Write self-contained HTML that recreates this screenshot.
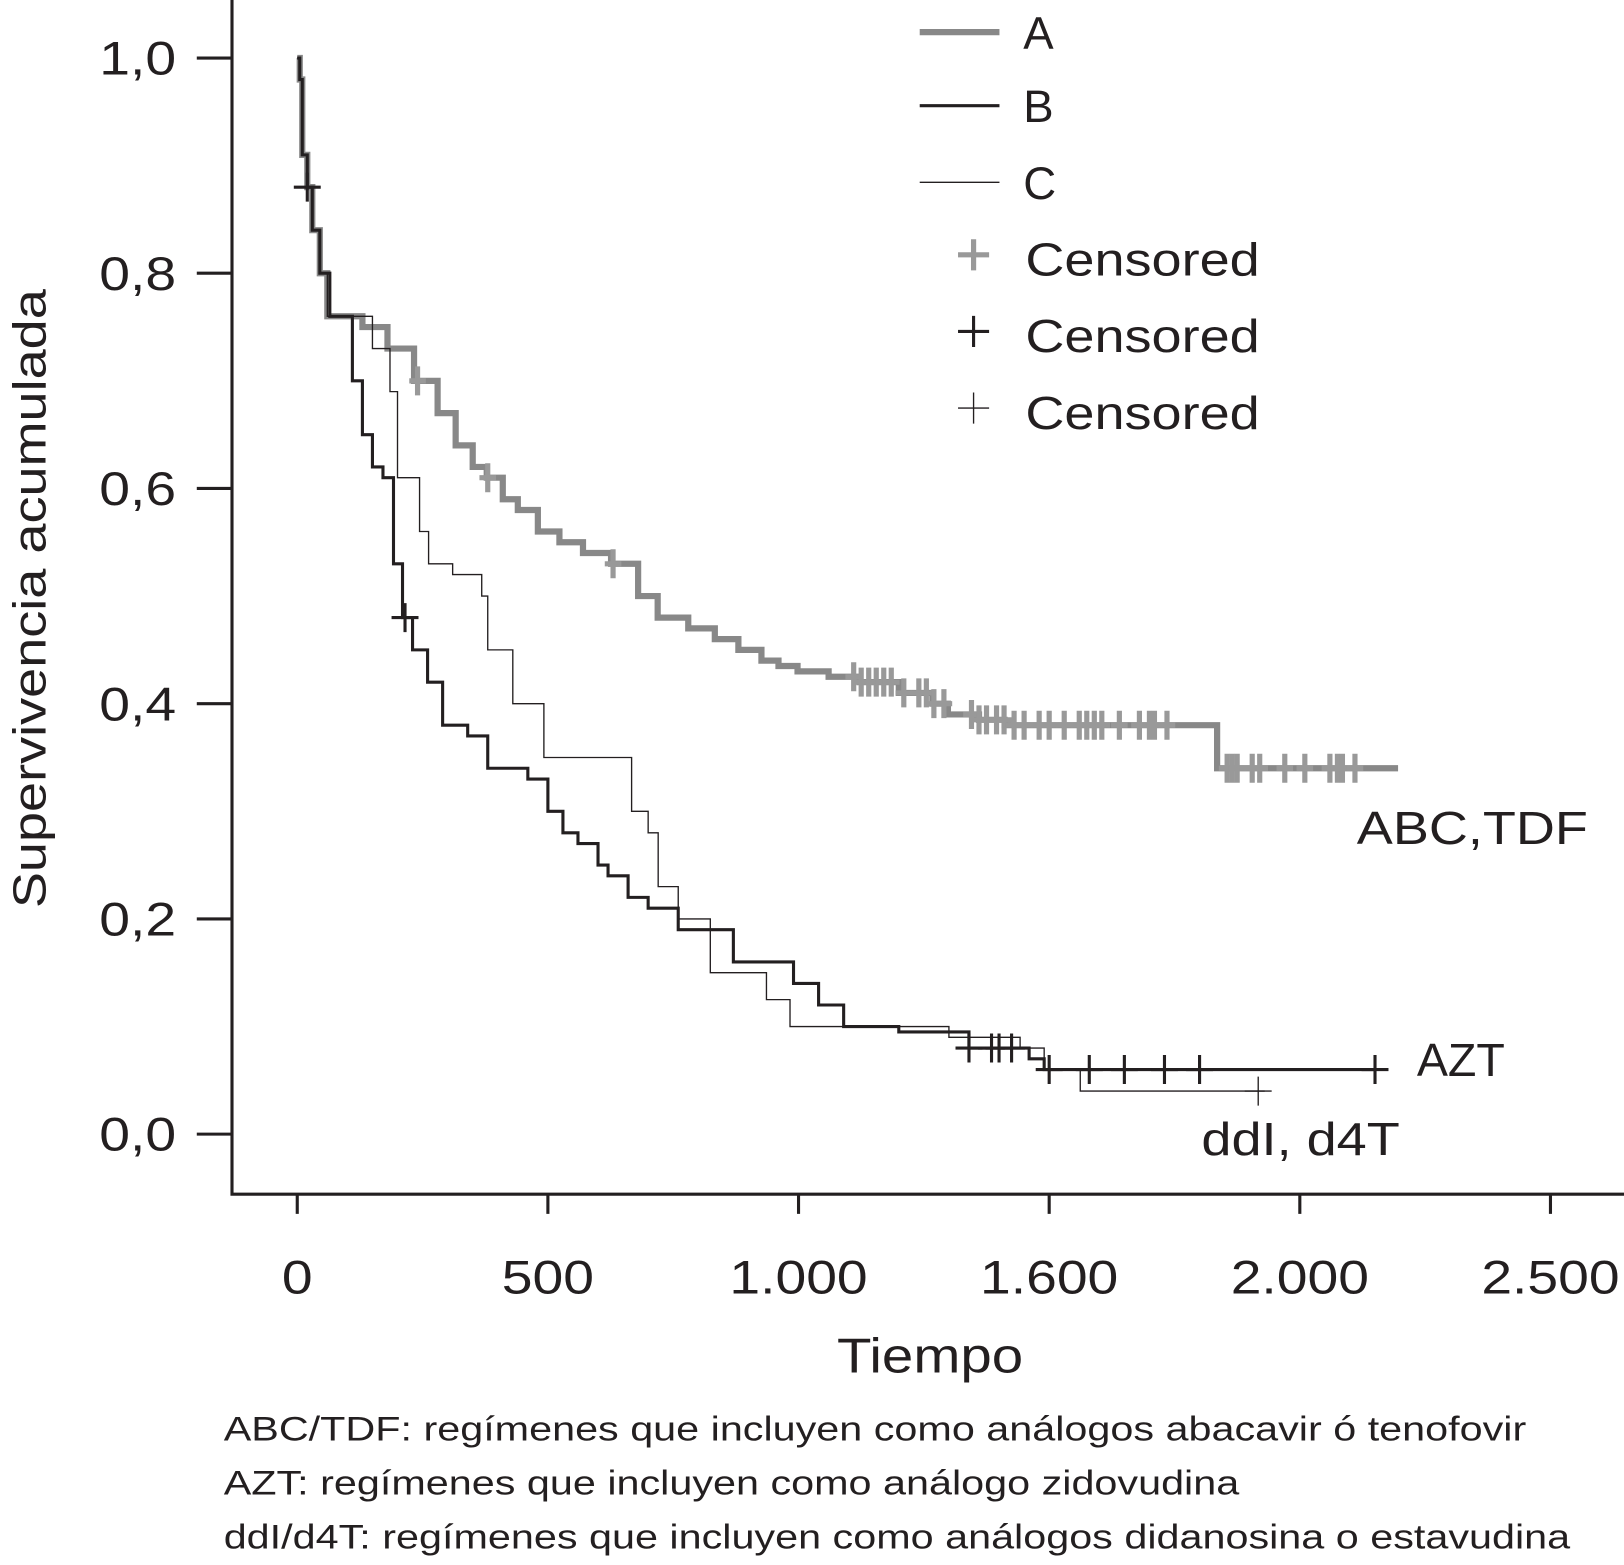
<!DOCTYPE html>
<html><head><meta charset="utf-8">
<style>
html,body{margin:0;padding:0;background:#fff;}
svg{display:block;}
text{font-family:"Liberation Sans",Arial,sans-serif;fill:#231f20;}
</style></head>
<body>
<svg id="chart" width="1624" height="1565" viewBox="0 0 1568 1511" xmlns="http://www.w3.org/2000/svg">
<g id="axes"></g>
<g id="series"></g>
<g>
  <line x1="888" y1="31" x2="965" y2="31" stroke="#888" stroke-width="6"/>
  <text x="988" y="47" font-size="44">A</text>
  <line x1="888" y1="102" x2="965" y2="102" stroke="#231f20" stroke-width="3"/>
  <text x="988" y="118" font-size="44">B</text>
  <line x1="888" y1="176" x2="965" y2="176" stroke="#231f20" stroke-width="1.3"/>
  <text x="988" y="192" font-size="44">C</text>
  <path d="M925 246 H955 M940 231 V261" stroke="#999" stroke-width="5"/>
  <text class="st" x="990" y="266" font-size="45">Censored</text>
  <path d="M925 320 H955 M940 305 V335" stroke="#231f20" stroke-width="3"/>
  <text class="st" x="990" y="340" font-size="45">Censored</text>
  <path d="M925 394 H955 M940 379 V409" stroke="#231f20" stroke-width="1.3"/>
  <text class="st" x="990" y="414" font-size="45">Censored</text>
</g>
<text class="st" x="1310" y="815" font-size="45">ABC,TDF</text>
<text x="1368" y="1039" font-size="45">AZT</text>
<text class="st" x="1160" y="1115" font-size="45">ddI, d4T</text>
<text class="st" x="898" y="1325" font-size="47" text-anchor="middle">Tiempo</text>
<text class="st" transform="translate(44,578) rotate(-90)" font-size="45" text-anchor="middle">Supervivencia acumulada</text>
<text class="fn" x="216" y="1391" font-size="33">ABC/TDF: regímenes que incluyen como análogos abacavir ó tenofovir</text>
<text class="fn" x="216" y="1443" font-size="33">AZT: regímenes que incluyen como análogo zidovudina</text>
<text class="fn" x="216" y="1495" font-size="33">ddI/d4T: regímenes que incluyen como análogos didanosina o estavudina</text>
</svg>
<script>
const xTickValues=[0,500,1000,1500,2000,2500];
const xTickLabels=["0","500","1.000","1.600","2.000","2.500"];
const yTickValues=[0,0.2,0.4,0.6,0.8,1.0];
const yTickLabels=["0,0","0,2","0,4","0,6","0,8","1,0"];
const timesA=[0,5,10,20,30,45,60,130,180,233,280,316,350,378,410,440,480,523,570,626,680,719,780,833,880,926,960,998,1060,1122,1200,1267,1298,1360,1411,1835];
const survA=[1,0.98,0.91,0.88,0.84,0.80,0.76,0.75,0.73,0.70,0.67,0.64,0.62,0.61,0.59,0.58,0.56,0.55,0.54,0.53,0.50,0.48,0.47,0.46,0.45,0.44,0.435,0.43,0.425,0.42,0.41,0.40,0.39,0.385,0.38,0.34];
const endA=2196;
const censorTA=[240,380,630,1110,1125,1140,1155,1170,1185,1210,1240,1255,1270,1290,1345,1360,1375,1395,1410,1430,1450,1480,1500,1530,1560,1575,1590,1605,1640,1680,1700,1710,1735,1855,1865,1875,1905,1920,1970,2010,2060,2075,2085,2110];
const timesB=[0,5,10,20,30,45,65,110,130,150,171,192,210,230,260,290,340,380,460,500,530,560,600,620,660,700,760,870,990,1040,1090,1200,1340,1460,1490];
const survB=[1,0.98,0.91,0.88,0.84,0.80,0.76,0.70,0.65,0.62,0.61,0.53,0.48,0.45,0.42,0.38,0.37,0.34,0.33,0.30,0.28,0.27,0.25,0.24,0.22,0.21,0.19,0.16,0.14,0.12,0.10,0.095,0.08,0.07,0.06];
const endB=2150;
const censorTB=[20,215,1340,1385,1400,1425,1500,1580,1650,1730,1800,2150];
const censorSB=[0.88,0.48,0.08,0.08,0.08,0.08,0.06,0.06,0.06,0.06,0.06,0.06];
const timesC=[0,5,10,20,30,45,60,150,185,200,244,262,310,368,380,430,492,667,700,720,760,824,936,983,1300,1442,1490,1562];
const survC=[1,0.98,0.91,0.88,0.84,0.80,0.76,0.73,0.69,0.61,0.56,0.53,0.52,0.50,0.45,0.40,0.35,0.30,0.28,0.23,0.20,0.15,0.125,0.10,0.09,0.08,0.06,0.04];
const endC=1930;
const censorTC=[1917];

const NS="http://www.w3.org/2000/svg";
const xs=t=>287+t*1210/2500;
const ys=s=>1095-1039*s;
function mk(tag,attrs,parent){const e=document.createElementNS(NS,tag);for(const k in attrs)e.setAttribute(k,attrs[k]);parent.appendChild(e);return e;}
const axes=document.getElementById('axes');
const series=document.getElementById('series');
let el=mk('path',{d:'M224 0 V1153 H1568',fill:'none',stroke:'#231f20','stroke-width':3},axes);


xTickValues.forEach((v,i)=>{
  let t=mk('line',{x1:xs(v),x2:xs(v),y1:1153,y2:1172,stroke:'#231f20','stroke-width':3},axes);
  
  
  let l=mk('text',{x:xs(v),y:1249,'font-size':46,'text-anchor':'middle','class':'st'},axes);
  l.textContent=xTickLabels[i];
  
  
});
yTickValues.forEach((v,i)=>{
  let t=mk('line',{x1:190,x2:224,y1:ys(v),y2:ys(v),stroke:'#231f20','stroke-width':3},axes);
  
  
  let l=mk('text',{x:170,y:ys(v)+16,'font-size':46,'text-anchor':'end','class':'st'},axes);
  l.textContent=yTickLabels[i];
  
  
});
function stepPath(T,S,end){let d='M'+xs(T[0])+' '+ys(S[0]);for(let i=1;i<T.length;i++){d+=' H'+xs(T[i])+' V'+ys(S[i]);}d+=' H'+xs(end);return d;}
function survAt(T,S,t){let s=S[0];for(let i=0;i<T.length;i++){if(T[i]<=t)s=S[i];}return s;}
let pa=mk('path',{d:stepPath(timesA,survA,endA),fill:'none',stroke:'#888','stroke-width':6},series);


let pc=mk('path',{d:stepPath(timesC,survC,endC),fill:'none',stroke:'#231f20','stroke-width':1.3},series);


let pb=mk('path',{d:stepPath(timesB,survB,endB),fill:'none',stroke:'#231f20','stroke-width':3},series);


censorTA.forEach(t=>{const x=xs(t),y=ys(survAt(timesA,survA,t));
  let c=mk('path',{d:`M${x-8} ${y} H${x+8} M${x} ${y-14} V${y+14}`,stroke:'#999','stroke-width':5},series);
  
  
});
censorTB.forEach((t,i)=>{const x=xs(t),y=ys(censorSB[i]);
  let c=mk('path',{d:`M${x-13} ${y} H${x+13} M${x} ${y-14} V${y+14}`,stroke:'#231f20','stroke-width':3},series);
  
  
});
censorTC.forEach(t=>{const x=xs(t),y=ys(survAt(timesC,survC,t));
  let c=mk('path',{d:`M${x-13} ${y} H${x+13} M${x} ${y-14} V${y+14}`,stroke:'#231f20','stroke-width':1.3},series);
  
  
});
document.querySelectorAll('text.st').forEach(t=>{const w=t.getComputedTextLength();t.setAttribute('textLength',(w*1.16).toFixed(1));t.setAttribute('lengthAdjust','spacingAndGlyphs');});
document.querySelectorAll('text.fn').forEach(t=>{const w=t.getComputedTextLength();t.setAttribute('textLength',(w*1.21).toFixed(1));t.setAttribute('lengthAdjust','spacingAndGlyphs');});
</script>
</body></html>
